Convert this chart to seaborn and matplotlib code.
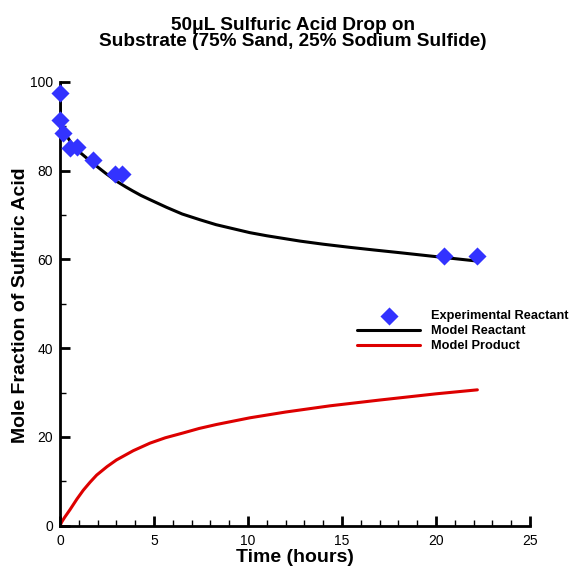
import matplotlib
matplotlib.use("Agg")
import matplotlib.pyplot as plt
import seaborn as sns
import pandas as pd
from matplotlib.ticker import MultipleLocator

# Experimental reactant
exp_time = [0.0, 0.02, 0.18, 0.53, 0.88, 1.77, 2.95, 3.3, 20.4, 22.2]
exp_frac = [97.5, 91.3, 88.4, 85.0, 85.3, 82.3, 79.1, 79.1, 60.8, 60.8]

# Model reactant
mr_time = [0, 0.005, 0.02, 0.05, 0.1, 0.27, 0.67, 1.0, 1.56, 2.0, 2.45, 3.0,
           3.5, 3.87, 4.3, 4.8, 5.67, 6.5, 7.45, 8.3, 9.2, 10.1, 11.0, 12.77,
           14.0, 15.4, 16.7, 18.05, 20.0, 22.2]
mr_frac = [100, 96, 93, 91.5, 90.3, 88.4, 85.7, 84.3, 82.3, 80.8, 79.3, 77.6,
           76.3, 75.4, 74.4, 73.4, 71.7, 70.2, 68.9, 67.8, 66.9, 66.0, 65.3, 64.1,
           63.4, 62.7, 62.1, 61.5, 60.6, 59.6]

# Model product
mp_time = [0, 0.1, 0.25, 0.53, 0.9, 1.24, 1.6, 1.95, 2.5, 3.0, 3.9, 4.79, 5.6,
           6.56, 7.4, 8.33, 10.1, 12.0, 14.36, 17.0, 20.0, 22.2]
mp_frac = [0, 0.9, 1.9, 3.6, 6.0, 8.0, 9.8, 11.4, 13.3, 14.8, 16.9, 18.6, 19.8,
           20.9, 21.9, 22.8, 24.3, 25.6, 27.0, 28.3, 29.7, 30.6]

sns.set_style("white")
plt.rcParams['font.family'] = ['Liberation Sans', 'DejaVu Sans']
plt.rcParams['text.color'] = 'black'
plt.rcParams['axes.labelcolor'] = 'black'
plt.rcParams['xtick.color'] = 'black'
plt.rcParams['ytick.color'] = 'black'

fig = plt.figure(figsize=(5.74, 5.68), dpi=100)
ax = fig.add_axes([60/574, 1-525.7/568, 470/574, 444/568])

df_exp = pd.DataFrame({"t": exp_time, "y": exp_frac})
df_mr = pd.DataFrame({"t": mr_time, "y": mr_frac})
df_mp = pd.DataFrame({"t": mp_time, "y": mp_frac})

sns.scatterplot(data=df_exp, x="t", y="y", marker="D", s=85, color="#3333ff",
                edgecolor="#3333ff", linewidth=0, ax=ax, label="Experimental Reactant",
                zorder=3, clip_on=False)
sns.lineplot(data=df_mr, x="t", y="y", color="black", lw=2.2, ax=ax,
             label="Model Reactant", zorder=2, sort=False)
sns.lineplot(data=df_mp, x="t", y="y", color="#dd0000", lw=2.2, ax=ax,
             label="Model Product", zorder=2, sort=False)

ax.set_xlim(0, 25)
ax.set_ylim(0, 100)
ax.xaxis.set_major_locator(MultipleLocator(5))
ax.xaxis.set_minor_locator(MultipleLocator(1))
ax.yaxis.set_major_locator(MultipleLocator(20))
ax.yaxis.set_minor_locator(MultipleLocator(10))

for s in ["top", "right"]:
    ax.spines[s].set_visible(False)
for s in ["left", "bottom"]:
    ax.spines[s].set_linewidth(2)
    ax.spines[s].set_color("black")

ax.tick_params(which="both", direction="in", bottom=True, left=True,
               top=False, right=False, color="black")
ax.tick_params(which="major", length=7, width=2, labelsize=10, labelcolor="black")
ax.tick_params(which="minor", length=4, width=1)
ax.tick_params(axis="y", which="major", pad=5)
ax.tick_params(axis="x", which="major", pad=6)

ax.set_xlabel("Time (hours)", fontsize=14, fontweight="bold", color="black")
ax.set_ylabel("Mole Fraction of Sulfuric Acid", fontsize=14, fontweight="bold", color="black")
ax.xaxis.set_label_coords(0.5, -0.053)
ax.yaxis.set_label_coords(-0.066, 0.497)

fig.text(293/574, 1-33.5/568, "50\u03bcL Sulfuric Acid Drop on\nSubstrate (75% Sand, 25% Sodium Sulfide)",
         ha="center", va="center", fontsize=13.7, fontweight="bold", linespacing=1.0)

leg = ax.legend(loc="upper left", bbox_to_anchor=(351/574, 1-304/568),
                bbox_transform=fig.transFigure, frameon=False, borderpad=0,
                handlelength=4.9, handletextpad=0.85, labelspacing=0.22,
                prop={"family": "Liberation Sans", "weight": "bold", "size": 9.2})

fig.savefig("out.png", dpi=100, facecolor="white")
